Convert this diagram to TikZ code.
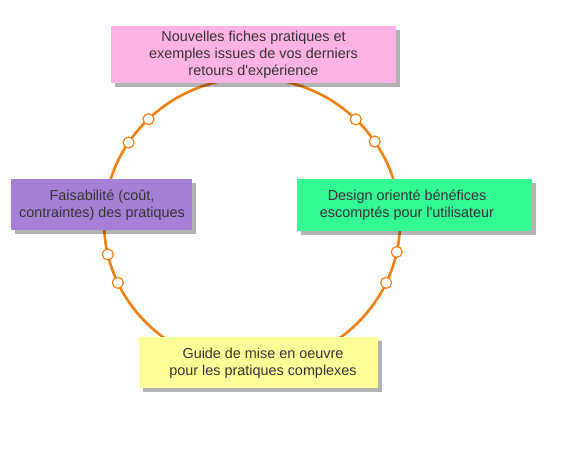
\documentclass[tikz,border=0pt]{standalone}
\usepackage{fontspec}
\setmainfont{Liberation Sans}[Ligatures=TeXOff]
\usetikzlibrary{shadows}
\definecolor{ringorange}{RGB}{240,128,20}
\definecolor{pinkbox}{RGB}{255,178,228}
\definecolor{purplebox}{RGB}{166,128,214}
\definecolor{greenbox}{RGB}{52,250,150}
\definecolor{yellowbox}{RGB}{255,255,153}
\definecolor{txt}{RGB}{51,51,51}
\tikzset{
  stagebox/.style={rectangle, inner sep=0pt,
    drop shadow={shadow xshift=4pt, shadow yshift=-4pt, fill=black, opacity=0.3}},
  stagetext/.style={inner sep=0pt, align=center, text=txt,
    font=\fontsize{14.4}{17.2}\selectfont},
  ring/.style={draw=ringorange, line width=2.6pt},
  dot/.style={circle, draw=ringorange, fill=white, line width=1.2pt, minimum size=11pt, inner sep=0pt}
}
\begin{document}
\begin{tikzpicture}[x=1pt,y=-1pt]
\useasboundingbox[fill=white] (0,0) rectangle (577,450);
\coordinate (c) at (252,222);
\draw[ring] (c) ellipse [x radius=148pt, y radius=144pt];
\foreach \t/\n in {134.4/a,146.5/b,193/c,205/d,45.5/e,34/f,-12/g,-25/h}{
  \node[dot] (dot\n) at ({252+148*cos(\t)},{222-144*sin(\t)}) {};
}
\node[stagebox, fill=pinkbox, minimum width=285pt, minimum height=57pt] (topbox) at (253.5,54) {};
\node[stagetext] (top) at (253.5,55)
  {Nouvelles fiches pratiques et\\exemples issues de vos derniers\\retours d'expérience};
\node[stagebox, fill=purplebox, minimum width=181pt, minimum height=51pt] (leftbox) at (101,204.5) {};
\node[stagetext] (left) at (102,205)
  {Faisabilité (coût,\\contraintes) des pratiques};
\node[stagebox, fill=greenbox, minimum width=235pt, minimum height=52pt] (rightbox) at (414,205) {};
\node[stagetext] (right) at (407,205)
  {Design orienté bénéfices\\escomptés pour l'utilisateur};
\node[stagebox, fill=yellowbox, minimum width=239pt, minimum height=51pt] (bottombox) at (258.5,362.5) {};
\node[stagetext] (bottom) at (263,363)
  {Guide de mise en oeuvre\\pour les pratiques complexes};
\end{tikzpicture}
\end{document}
